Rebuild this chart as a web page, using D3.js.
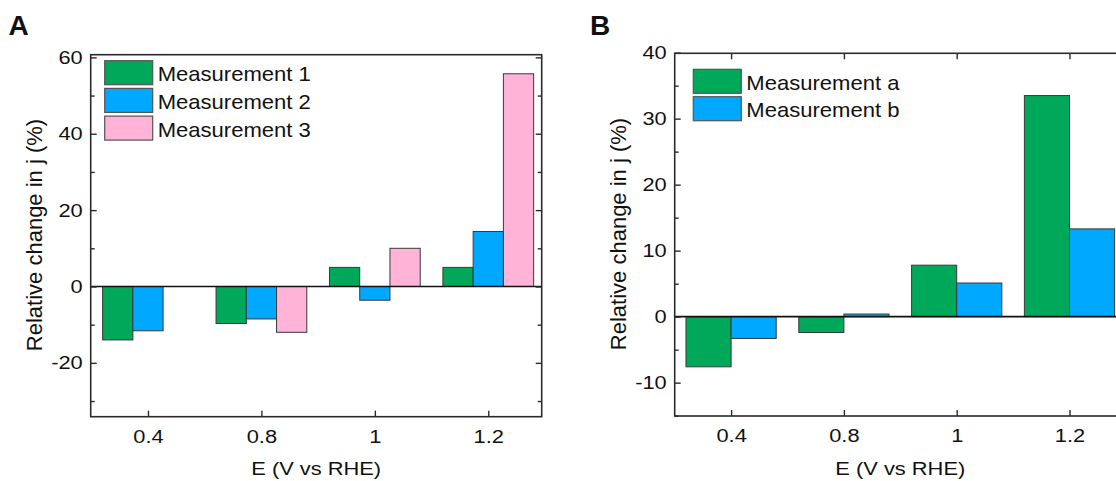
<!DOCTYPE html>
<html>
<head>
<meta charset="utf-8">
<script src="https://cdn.jsdelivr.net/npm/d3@7"></script>
<style>
  html, body { margin: 0; padding: 0; background: #fff; }
  svg { display: block; }
  text { font-family: "Liberation Sans", Arial, sans-serif; fill: #111; }
</style>
</head>
<body>
<svg id="chart" width="1116" height="481"></svg>
<script>
// ---------- data ----------
const categories = ["0.4", "0.8", "1", "1.2"];

const seriesA = ["Measurement 1", "Measurement 2", "Measurement 3"];
const measurement1 = [-14.0, -9.7, 5.0, 5.0];
const measurement2 = [-11.6, -8.5, -3.6, 14.4];
const measurement3 = [null, -12.0, 10.0, 55.7];
const yTicksA = [-20, 0, 20, 40, 60];
const yMinorA = [-30, -10, 10, 30, 50];

const seriesB = ["Measurement a", "Measurement b"];
const measurementA = [-7.6, -2.4, 7.8, 33.5];
const measurementB = [-3.3, 0.4, 5.1, 13.3];
const yTicksB = [-10, 0, 10, 20, 30, 40];
const yMinorB = [-15, -5, 5, 15, 25, 35];

const colors = ["#00a859", "#00a8ff", "#ffb3d7"];
const yTitle = "Relative change in j (%)";
const xTitle = "E (V vs RHE)";

// ---------- drawing ----------
const svg = d3.select("#chart");
const SX = 1.15;       // horizontal stretch of text in the original
const AX = "#2b2b2b";

function drawPanel(cfg) {
  const g = svg.append("g");
  const x = d3.scaleLinear().domain(cfg.xDomain).range([cfg.left, cfg.right]);
  const y = d3.scaleLinear().domain(cfg.yDomain).range([cfg.bottom, cfg.top]);
  const idx = categories.map((d, i) => i + 1);

  // bars
  const n = cfg.series.length;
  const groupW = 0.8, bw = groupW / n;
  cfg.values.forEach((vals, s) => {
    const data = vals.map((v, i) => ({ v, i: idx[i] })).filter(d => d.v !== null);
    g.selectAll(null).data(data).enter().append("rect")
      .attr("x", d => x(d.i - groupW / 2 + s * bw))
      .attr("width", d => x(d.i - groupW / 2 + (s + 1) * bw) - x(d.i - groupW / 2 + s * bw))
      .attr("y", d => Math.min(y(d.v), y(0)))
      .attr("height", d => Math.abs(y(d.v) - y(0)))
      .attr("fill", colors[s])
      .attr("stroke", "#3a3a3a")
      .attr("stroke-width", 1);
  });

  // zero line
  g.append("line")
    .attr("x1", x(cfg.xDomain[0])).attr("x2", Math.min(x(cfg.xDomain[1]), 1116))
    .attr("y1", y(0)).attr("y2", y(0))
    .attr("stroke", "#111").attr("stroke-width", 1.6);

  // left axis (major, labelled)
  const pad = 8 / SX;
  const left = g.append("g").attr("transform", `translate(${cfg.left},0)`)
    .call(d3.axisLeft(y).tickValues(cfg.yTicks).tickFormat(d => String(d))
      .tickSizeInner(-6).tickSizeOuter(0).tickPadding(pad));
  left.select(".domain").remove();
  left.selectAll(".tick line").attr("stroke", AX).attr("stroke-width", 1.4);
  left.selectAll(".tick text")
    .attr("font-size", 19).attr("fill", "#111")
    .attr("font-family", "Liberation Sans, Arial, sans-serif")
    .attr("transform", `scale(${SX},1)`);
  // left minor
  const leftMinor = g.append("g").attr("transform", `translate(${cfg.left},0)`)
    .call(d3.axisLeft(y).tickValues(cfg.yMinor).tickFormat("").tickSizeInner(-4).tickSizeOuter(0));
  leftMinor.select(".domain").remove();
  leftMinor.selectAll(".tick line").attr("stroke", AX).attr("stroke-width", 1.4);

  // right axis mirror (inward)
  const right = g.append("g").attr("transform", `translate(${cfg.right},0)`)
    .call(d3.axisRight(y).tickValues(cfg.yTicks).tickFormat("").tickSizeInner(-6).tickSizeOuter(0));
  right.select(".domain").remove();
  right.selectAll(".tick line").attr("stroke", AX).attr("stroke-width", 1.4);
  const rightMinor = g.append("g").attr("transform", `translate(${cfg.right},0)`)
    .call(d3.axisRight(y).tickValues(cfg.yMinor).tickFormat("").tickSizeInner(-4).tickSizeOuter(0));
  rightMinor.select(".domain").remove();
  rightMinor.selectAll(".tick line").attr("stroke", AX).attr("stroke-width", 1.4);

  // bottom axis
  const bottom = g.append("g").attr("transform", `translate(0,${cfg.bottom})`)
    .call(d3.axisBottom(x).tickValues(idx).tickFormat((d, i) => categories[i])
      .tickSizeInner(-6).tickSizeOuter(0));
  bottom.select(".domain").remove();
  bottom.selectAll(".tick line").attr("stroke", AX).attr("stroke-width", 1.4);
  bottom.selectAll(".tick text")
    .attr("font-size", 19).attr("fill", "#111")
    .attr("font-family", "Liberation Sans, Arial, sans-serif")
    .attr("y", 26).attr("dy", 0)
    .attr("transform", `scale(${SX},1)`);

  // top ticks (optional)
  if (cfg.topTicks) {
    const top = g.append("g").attr("transform", `translate(0,${cfg.top})`)
      .call(d3.axisTop(x).tickValues(idx).tickFormat("").tickSizeInner(-6).tickSizeOuter(0));
    top.select(".domain").remove();
    top.selectAll(".tick line").attr("stroke", AX).attr("stroke-width", 1.4);
  }

  // frame
  g.append("rect")
    .attr("x", cfg.left).attr("y", cfg.top)
    .attr("width", cfg.right - cfg.left).attr("height", cfg.bottom - cfg.top)
    .attr("fill", "none").attr("stroke", AX).attr("stroke-width", 1.6);

  // axis titles
  const xc = (cfg.left + cfg.right) / 2;
  g.append("text")
    .attr("transform", `translate(${xc},475) scale(${SX},1)`)
    .attr("text-anchor", "middle").attr("font-size", 19).text(xTitle);
  g.append("text")
    .attr("transform", `translate(${cfg.yTitleX},${cfg.yTitleY}) rotate(-90)`)
    .attr("text-anchor", "middle").attr("font-size", 22).text(yTitle);

  // legend
  cfg.series.forEach((name, s) => {
    const yy = cfg.legendY + s * cfg.legendStep;
    g.append("rect")
      .attr("x", cfg.legendX).attr("y", yy)
      .attr("width", 48).attr("height", 24)
      .attr("fill", colors[s]).attr("stroke", "#555").attr("stroke-width", 1.2);
    g.append("text")
      .attr("transform", `translate(${cfg.legendX + 53},${yy + 20.5}) scale(1.05,1)`)
      .attr("font-size", 21).text(name);
  });

  // panel letter
  svg.append("text")
    .attr("x", cfg.letterX).attr("y", 35)
    .attr("font-family", "Open Sans, Liberation Sans, sans-serif")
    .attr("font-weight", 700).attr("font-size", 28).text(cfg.letter);
}

drawPanel({
  letter: "A", letterX: 8.5,
  left: 90.7, right: 541.7, top: 54.7, bottom: 416.7,
  xDomain: [0.495, 4.471], yDomain: [-34.1, 60.7],
  yTicks: yTicksA, yMinor: yMinorA,
  series: seriesA, values: [measurement1, measurement2, measurement3],
  topTicks: false,
  yTitleX: 42, yTitleY: 235,
  legendX: 104.7, legendY: 60.7, legendStep: 27.7
});

drawPanel({
  letter: "B", letterX: 590,
  left: 674.7, right: 1125.9, top: 53.3, bottom: 416,
  xDomain: [0.5, 4.5], yDomain: [-15.05, 39.9],
  yTicks: yTicksB, yMinor: yMinorB,
  series: seriesB, values: [measurementA, measurementB],
  topTicks: true,
  yTitleX: 626, yTitleY: 234,
  legendX: 693.3, legendY: 69.3, legendStep: 27.4
});
</script>
</body>
</html>
